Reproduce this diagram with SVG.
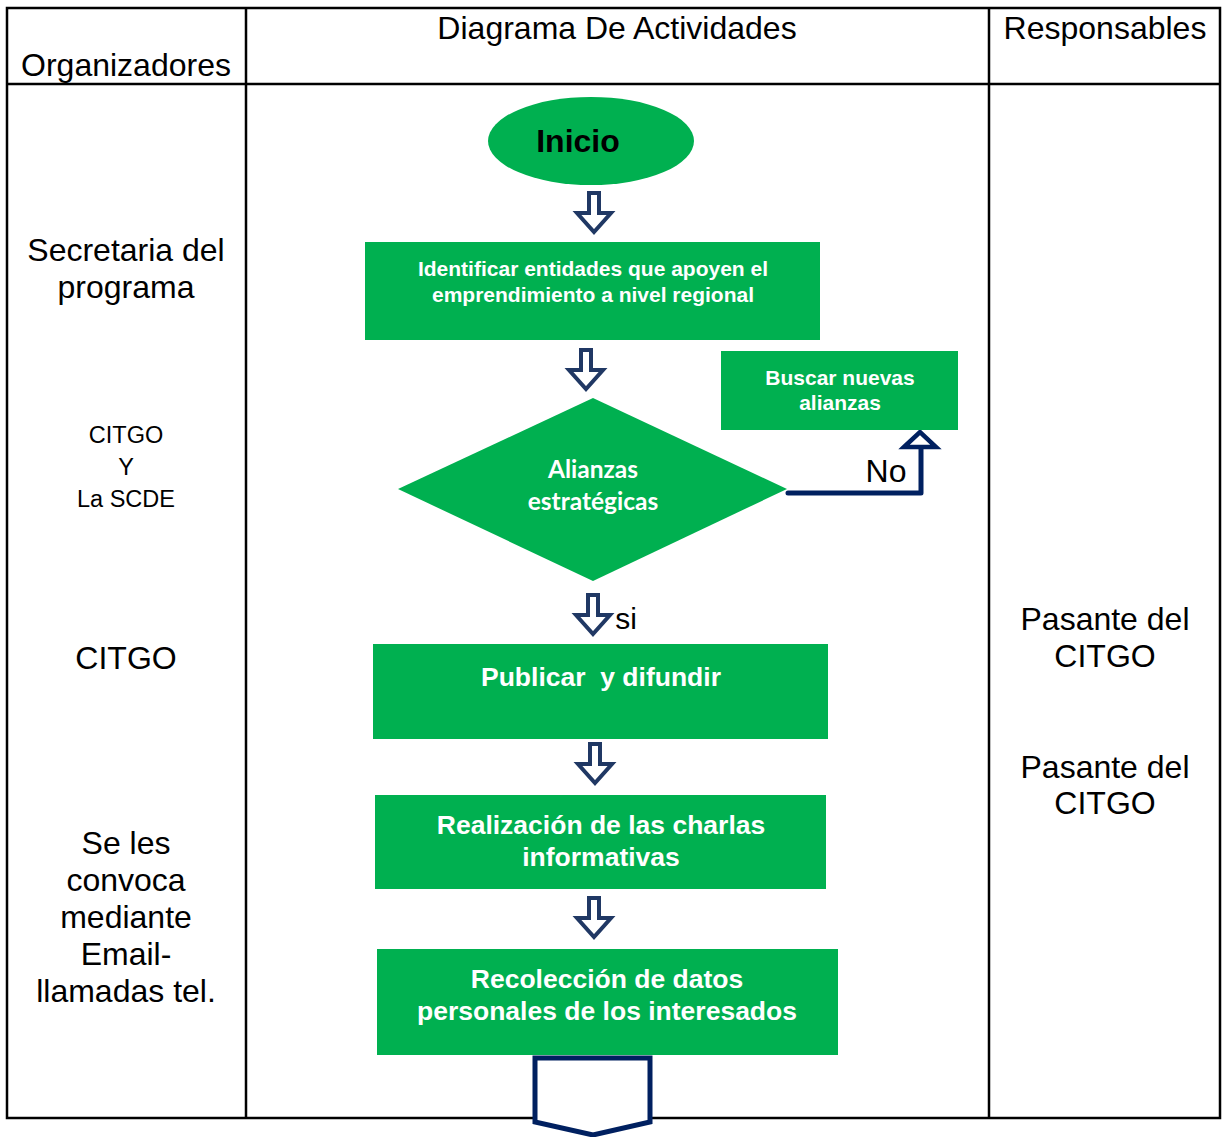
<svg xmlns="http://www.w3.org/2000/svg" width="1224" height="1137" viewBox="0 0 1224 1137">
<style>
.lbl{font-family:"Liberation Sans",Arial,sans-serif;fill:#000;text-anchor:middle}
.box{fill:#00B050}
.bt{font-family:"Liberation Sans",Arial,sans-serif;font-weight:bold;fill:#fff;text-anchor:middle}
.ct{font-family:Lato,"Open Sans",sans-serif;font-weight:bold;fill:#fff;text-anchor:middle}
.grid{stroke:#000;stroke-width:2.5;fill:none}
</style>
<defs>
<path id="darrow" d="M-5,0 H5 V20 H17 L0,39 L-17,20 H-5 Z" fill="#fff" stroke="#203864" stroke-width="4" stroke-linejoin="miter"/>
</defs>
<rect width="1224" height="1137" fill="#fff"/>
<g id="table">
<rect class="grid" x="7" y="8" width="1213" height="1110"/>
<line class="grid" x1="246" y1="8" x2="246" y2="1118"/>
<line class="grid" x1="989" y1="8" x2="989" y2="1118"/>
<line class="grid" x1="7" y1="84" x2="1220" y2="84"/>
<text class="lbl" x="126" y="76" font-size="32">Organizadores</text>
<text class="lbl" x="617" y="39" font-size="32">Diagrama De Actividades</text>
<text class="lbl" x="1105" y="39" font-size="32">Responsables</text>
</g>
<g id="left-col">
<text class="lbl" x="126" y="261" font-size="32">Secretaria del</text>
<text class="lbl" x="126" y="298" font-size="32">programa</text>
<text class="lbl" x="126" y="443" font-size="23.5">CITGO</text>
<text class="lbl" x="126" y="475" font-size="23.5">Y</text>
<text class="lbl" x="126" y="507" font-size="23.5">La SCDE</text>
<text class="lbl" x="126" y="669" font-size="32">CITGO</text>
<text class="lbl" x="126" y="854" font-size="32">Se les</text>
<text class="lbl" x="126" y="891" font-size="32">convoca</text>
<text class="lbl" x="126" y="928" font-size="32">mediante</text>
<text class="lbl" x="126" y="965" font-size="32">Email-</text>
<text class="lbl" x="126" y="1002" font-size="32">llamadas tel.</text>
</g>
<g id="right-col">
<text class="lbl" x="1105" y="630" font-size="32">Pasante del</text>
<text class="lbl" x="1105" y="667" font-size="32">CITGO</text>
<text class="lbl" x="1105" y="778" font-size="32">Pasante del</text>
<text class="lbl" x="1105" y="814" font-size="32">CITGO</text>
</g>
<g id="connectors">
<use href="#darrow" x="594" y="193"/>
<use href="#darrow" x="586" y="350"/>
<use href="#darrow" x="593" y="595"/>
<use href="#darrow" x="595" y="744"/>
<use href="#darrow" x="594" y="898"/>
<path d="M788,493 H921 V447" fill="none" stroke="#002060" stroke-width="5" stroke-linecap="round" stroke-linejoin="round"/>
<path d="M904,447 L920,432 L936,447 Z" fill="#fff" stroke="#002060" stroke-width="4.5" stroke-linejoin="miter"/>
<text class="lbl" x="886" y="482" font-size="32">No</text>
<text class="lbl" x="626" y="629" font-size="30">si</text>
</g>
<g id="inicio">
<ellipse class="box" cx="591" cy="141" rx="103" ry="44"/>
<text x="578" y="152" font-family="'Liberation Sans',Arial,sans-serif" font-weight="bold" font-size="32" fill="#000" text-anchor="middle">Inicio</text>
</g>
<g id="identificar">
<rect class="box" x="365" y="242" width="455" height="98"/>
<text class="bt" x="593" y="276" font-size="21">Identificar entidades que apoyen el</text>
<text class="bt" x="593" y="302" font-size="21">emprendimiento a nivel regional</text>
</g>
<g id="buscar">
<rect class="box" x="721" y="351" width="237" height="79"/>
<text class="bt" x="840" y="385" font-size="21">Buscar nuevas</text>
<text class="bt" x="840" y="410" font-size="21">alianzas</text>
</g>
<g id="alianzas">
<polygon class="box" points="593,398 787,489 593,581 398,489"/>
<text class="ct" x="593" y="478" font-size="24.5">Alianzas</text>
<text class="ct" x="593" y="510" font-size="24.5">estratégicas</text>
</g>
<g id="publicar">
<rect class="box" x="373" y="644" width="455" height="95"/>
<text class="bt" x="601" y="686" font-size="26.5" style="white-space:pre">Publicar  y difundir</text>
</g>
<g id="realizacion">
<rect class="box" x="375" y="795" width="451" height="94"/>
<text class="bt" x="601" y="834" font-size="26.5">Realización de las charlas</text>
<text class="bt" x="601" y="866" font-size="26.5">informativas</text>
</g>
<g id="recoleccion">
<rect class="box" x="377" y="949" width="461" height="106"/>
<text class="bt" x="607" y="988" font-size="26.5">Recolección de datos</text>
<text class="bt" x="607" y="1020" font-size="26.5">personales de los interesados</text>
</g>
<g id="offpage">
<path d="M535,1058 H650 V1122 L593,1135 L535,1122 Z" fill="#fff" stroke="#002060" stroke-width="5"/>
</g>
</svg>
